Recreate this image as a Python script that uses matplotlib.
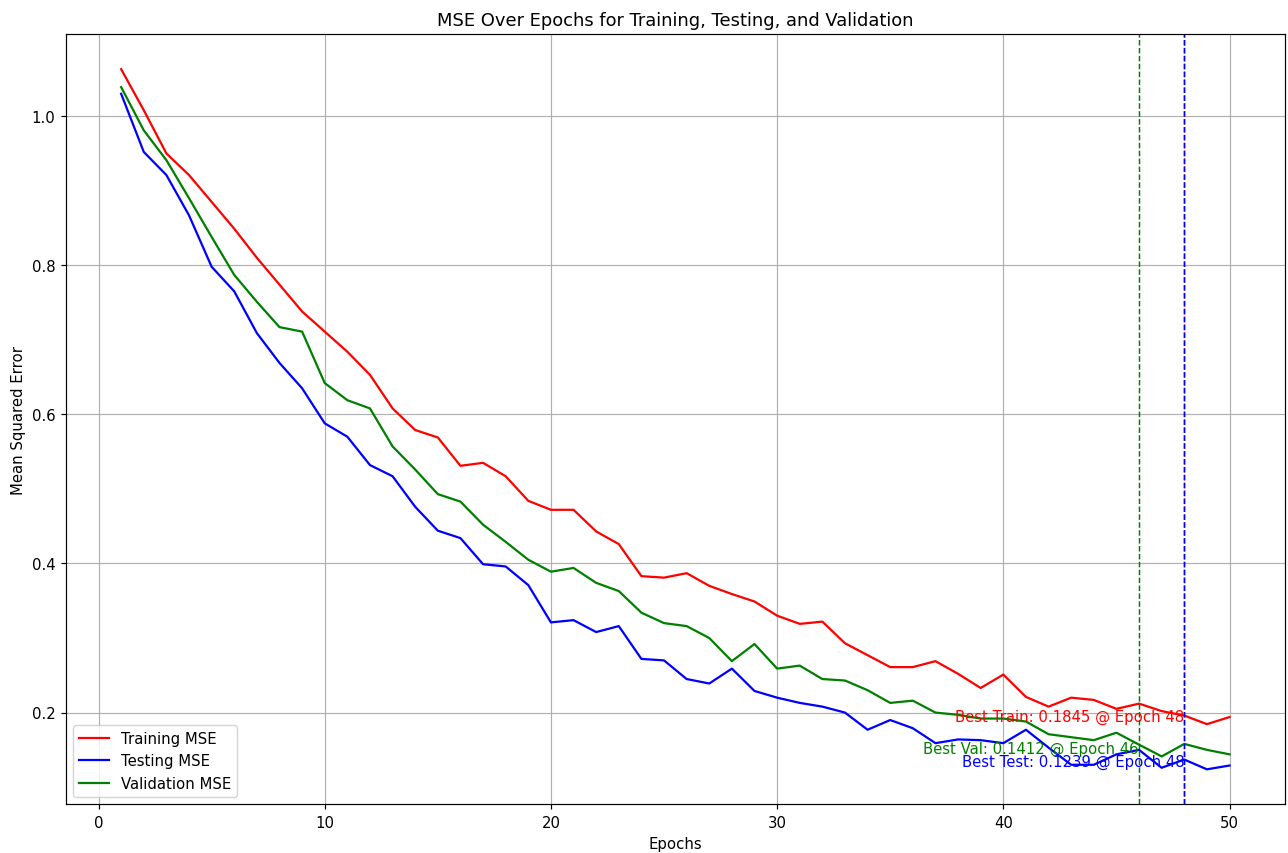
import matplotlib.pyplot as plt

epochs = list(range(1, 51))

train_mse = [1.063, 1.008, 0.950, 0.921, 0.885, 0.849, 0.810, 0.774, 0.738, 0.711,
             0.684, 0.653, 0.608, 0.579, 0.569, 0.531, 0.535, 0.517, 0.484, 0.472,
             0.472, 0.443, 0.426, 0.383, 0.381, 0.387, 0.370, 0.359, 0.349, 0.330,
             0.319, 0.322, 0.293, 0.277, 0.261, 0.261, 0.269, 0.252, 0.233, 0.251,
             0.221, 0.208, 0.220, 0.217, 0.205, 0.212, 0.202, 0.196, 0.1845, 0.194]

test_mse = [1.030, 0.952, 0.921, 0.867, 0.798, 0.765, 0.709, 0.669, 0.635, 0.588,
            0.570, 0.532, 0.517, 0.476, 0.444, 0.434, 0.399, 0.396, 0.371, 0.321,
            0.324, 0.308, 0.316, 0.272, 0.270, 0.245, 0.239, 0.259, 0.229, 0.220,
            0.213, 0.208, 0.200, 0.177, 0.190, 0.179, 0.159, 0.164, 0.163, 0.159,
            0.177, 0.153, 0.130, 0.130, 0.144, 0.150, 0.126, 0.137, 0.1239, 0.129]

val_mse = [1.039, 0.981, 0.941, 0.890, 0.838, 0.787, 0.751, 0.717, 0.711, 0.642,
           0.619, 0.608, 0.557, 0.526, 0.493, 0.483, 0.452, 0.429, 0.405, 0.389,
           0.394, 0.374, 0.363, 0.334, 0.320, 0.316, 0.300, 0.269, 0.292, 0.259,
           0.263, 0.245, 0.243, 0.230, 0.213, 0.216, 0.200, 0.197, 0.192, 0.192,
           0.188, 0.171, 0.167, 0.163, 0.173, 0.157, 0.1412, 0.158, 0.150, 0.144]

# indice (base 0) del mejor valor, como en el original
best_train_idx = train_mse.index(min(train_mse))
best_val_idx = val_mse.index(min(val_mse))
best_test_idx = test_mse.index(min(test_mse))

fig = plt.figure(figsize=(12.0, 7.95), dpi=107.4)
plt.plot(epochs, train_mse, color='red', label='Training MSE')
plt.plot(epochs, test_mse, color='blue', label='Testing MSE')
plt.plot(epochs, val_mse, color='green', label='Validation MSE')

plt.axvline(best_train_idx, color='red', linestyle='--', linewidth=1)
plt.text(best_train_idx, min(train_mse), 'Best Train: %.4f @ Epoch %d' % (min(train_mse), best_train_idx),
         color='red', ha='right', va='bottom')
plt.axvline(best_val_idx, color='green', linestyle='--', linewidth=1)
plt.text(best_val_idx, min(val_mse), 'Best Val: %.4f @ Epoch %d' % (min(val_mse), best_val_idx),
         color='green', ha='right', va='bottom')
plt.axvline(best_test_idx, color='blue', linestyle='--', linewidth=1)
plt.text(best_test_idx, min(test_mse), 'Best Test: %.4f @ Epoch %d' % (min(test_mse), best_test_idx),
         color='blue', ha='right', va='bottom')

plt.title('MSE Over Epochs for Training, Testing, and Validation')
plt.xlabel('Epochs')
plt.ylabel('Mean Squared Error')
plt.legend(loc='lower left')
plt.grid(True)
plt.subplots_adjust(left=0.051, right=0.997, top=0.959, bottom=0.057)
plt.savefig('out.png')
